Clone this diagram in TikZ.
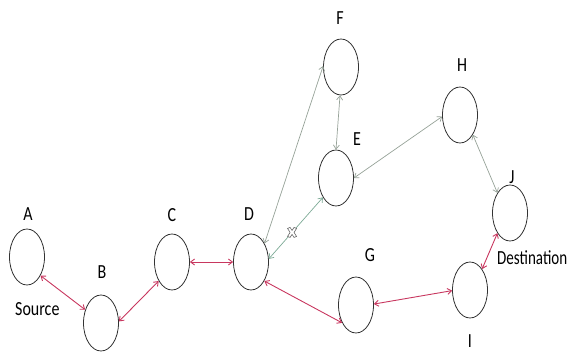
\documentclass[tikz,border=0pt]{standalone}
\usepackage{fontspec}
\setmainfont{Carlito}
\usetikzlibrary{shapes.geometric,arrows.meta}
\definecolor{redlink}{RGB}{200,55,95}
\definecolor{graylink}{RGB}{150,162,152}
\definecolor{greenlink}{RGB}{125,170,150}
\newcommand{\tall}[2][1]{\scalebox{#1}[1.25]{#2}}
\tikzset{
  station/.style={draw=black!80,line width=0.8pt,ellipse,minimum width=35pt,minimum height=56pt,inner sep=0pt},
  lbl/.style={font=\fontsize{16}{18}\selectfont,inner sep=0pt},
  redarrow/.style={draw=redlink,line width=0.9pt,{Straight Barb[length=4pt,width=6pt]}-{Straight Barb[length=4pt,width=6pt]}},
  grayarrow/.style={draw=graylink,line width=0.7pt,{Straight Barb[length=4pt,width=6pt]}-{Straight Barb[length=4pt,width=6pt]}},
  greenarrow/.style={draw=greenlink,line width=0.7pt,{Straight Barb[length=4pt,width=6pt]}-{Straight Barb[length=4pt,width=6pt]}}
}
\begin{document}
\begin{tikzpicture}[x=1pt,y=-1pt]
\useasboundingbox (0,0) rectangle (570,353);
\node[station] (A) at (27,257) {};
\node[station] (B) at (101,323) {};
\node[station] (C) at (172,262) {};
\node[station] (D) at (251,262) {};
\node[station] (E) at (336,178) {};
\node[station] (F) at (341,67) {};
\node[station] (G) at (356,305) {};
\node[station] (H) at (460,115) {};
\node[station] (I) at (470,290) {};
\node[station] (J) at (510,213) {};
\node[lbl] (lA) at (28,214) {\tall{A}};
\node[lbl] (lB) at (102,272) {\tall{B}};
\node[lbl] (lC) at (172,215) {\tall{C}};
\node[lbl] (lD) at (249,214) {\tall{D}};
\node[lbl] (lE) at (357,139) {\tall{E}};
\node[lbl] (lF) at (340,18) {\tall{F}};
\node[lbl] (lG) at (370,255) {\tall{G}};
\node[lbl] (lH) at (462,65) {\tall{H}};
\node[lbl] (lI) at (470,341) {\tall{I}};
\node[lbl] (lJ) at (512,177) {\tall{J}};
\node[lbl,anchor=west] (src) at (15,309) {\tall{Source}};
\node[lbl,anchor=west] (dst) at (497,258) {\tall[0.94]{Destination}};
% red links
\draw[redarrow] (A.-54) -- (B.140);
\draw[redarrow] (B.5) -- (C.235);
\draw[redarrow] (C.0) -- (D.180);
\draw[redarrow] (D.-55) -- (G.232);
\draw[redarrow] (G.3) -- (I.182);
\draw[redarrow] (I.60) -- (J.238);
% gray links
\draw[grayarrow] (D.54) -- (F.177);
\draw[greenarrow] (D.10) -- coordinate[pos=0.43] (x) (E.236);
\draw[grayarrow] (F.-92) -- (E.90);
\draw[grayarrow] (E.0) -- (H.185);
\draw[grayarrow] (H.-57) -- (J.122);
% cross mark
\begin{scope}[shift={(x)}]
\filldraw[draw=black!60,fill=white,line width=0.6pt]
 (-2,-5) -- (0,-2) -- (2,-5) -- (4.5,-4) -- (2,0) -- (4.5,4) -- (2,5) -- (0,2) -- (-2,5) -- (-4.5,4) -- (-2,0) -- (-4.5,-4) -- cycle;
\end{scope}
\end{tikzpicture}
\end{document}
